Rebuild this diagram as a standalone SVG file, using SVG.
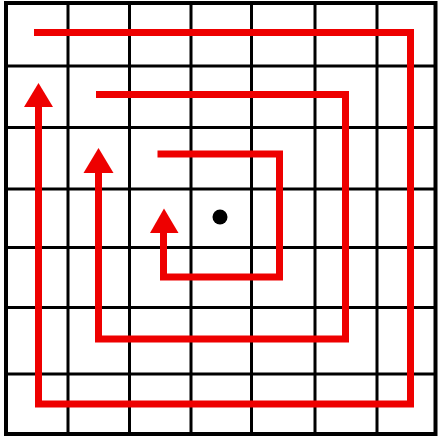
<svg xmlns="http://www.w3.org/2000/svg" width="438" height="441" viewBox="0 0 438 441">
<style>
.g{stroke:#000;stroke-width:3;fill:none}
.b{stroke:#000;stroke-width:4;fill:none}
.s{stroke:#ee0000;stroke-width:7;fill:none;stroke-linejoin:miter;stroke-linecap:butt}
.h{fill:#ee0000;stroke:none}
</style>
<rect width="438" height="441" fill="#fff"/>
<g id="grid">
<path class="g" d="M68 3V434M129.5 3V434M191 3V434M251.5 3V434M315 3V434M377 3V434"/>
<path class="g" d="M6 66H435.5M6 127.5H435.5M6 189H435.5M6 247.5H435.5M6 307.5H435.5M6 374H435.5"/>
<rect class="b" x="6" y="3" width="429.5" height="431"/>
</g>
<g id="connectors">
<path class="s" d="M34 32.5H410.5V404H38.5V106"/>
<polygon class="h" points="38.5,83 24,107 53,107"/>
<path class="s" d="M96 94.5H345.5V339H98.5V172"/>
<polygon class="h" points="98.5,148 83.5,173 113.5,173"/>
<path class="s" d="M157.5 154H279.5V277H163.5V232"/>
<polygon class="h" points="164,208.5 150,233 178.5,233"/>
</g>
<g id="center">
<circle cx="220" cy="217" r="7.5" fill="#000"/>
</g>
</svg>
